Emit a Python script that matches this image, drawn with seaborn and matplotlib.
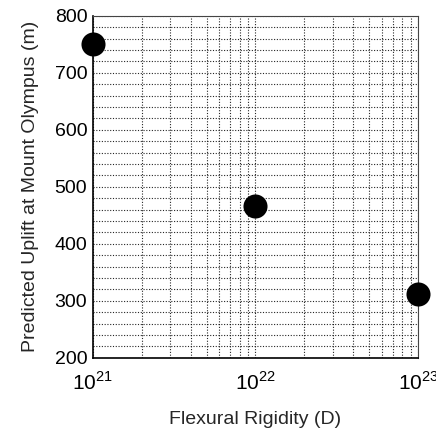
import matplotlib
matplotlib.use('Agg')
import matplotlib.pyplot as plt
import seaborn as sns
import pandas as pd
import numpy as np
from matplotlib.ticker import LogLocator, MultipleLocator, FixedLocator

rigidity = [1e21, 1e22, 1e23]
uplift = [750, 467, 312]
x_ticks = [1e21, 1e22, 1e23]
x_labels = ['$10^{21}$', '$10^{22}$', '$10^{23}$']

df = pd.DataFrame({'D': rigidity, 'uplift': uplift})

sns.set_style('white')
plt.rcParams['font.family'] = ['Liberation Sans', 'DejaVu Sans']
plt.rcParams['mathtext.fontset'] = 'custom'
plt.rcParams['mathtext.rm'] = 'Liberation Sans'

fig, ax = plt.subplots(figsize=(4.36, 4.28), dpi=100)
fig.subplots_adjust(left=0.213, right=0.959, top=0.963, bottom=0.164)

sns.scatterplot(data=df, x='D', y='uplift', ax=ax, s=300, color='black',
                edgecolor='black', linewidth=0, clip_on=False, zorder=5)

ax.set_xscale('log')
ax.set_xlim(1e21, 1e23)
ax.set_ylim(200, 800)
ax.xaxis.set_major_locator(FixedLocator(x_ticks))
ax.set_xticklabels(x_labels)
ax.xaxis.set_minor_locator(LogLocator(base=10, subs=np.arange(2, 10)))
ax.yaxis.set_major_locator(MultipleLocator(100))
ax.yaxis.set_minor_locator(MultipleLocator(20))

ax.grid(True, which='both', linestyle=(0, (1, 1.5)), color='black', linewidth=0.8, alpha=0.85)
ax.tick_params(axis='both', which='major', direction='in', length=6, width=1,
               labelsize=14, colors='black', pad=4)
ax.tick_params(axis='both', which='minor', direction='in', length=3, width=0.8)
ax.tick_params(axis='x', which='major', labelsize=15, pad=10)

for side in ['left', 'bottom']:
    ax.spines[side].set_color('black')
    ax.spines[side].set_linewidth(1.2)
for side in ['top', 'right']:
    ax.spines[side].set_color('#444444')
    ax.spines[side].set_linewidth(0.8)

ax.set_xlabel('Flexural Rigidity (D)', fontsize=14, labelpad=12)
ax.set_ylabel('Predicted Uplift at Mount Olympus (m)', fontsize=14, labelpad=11)

plt.savefig('out.png', dpi=100)
